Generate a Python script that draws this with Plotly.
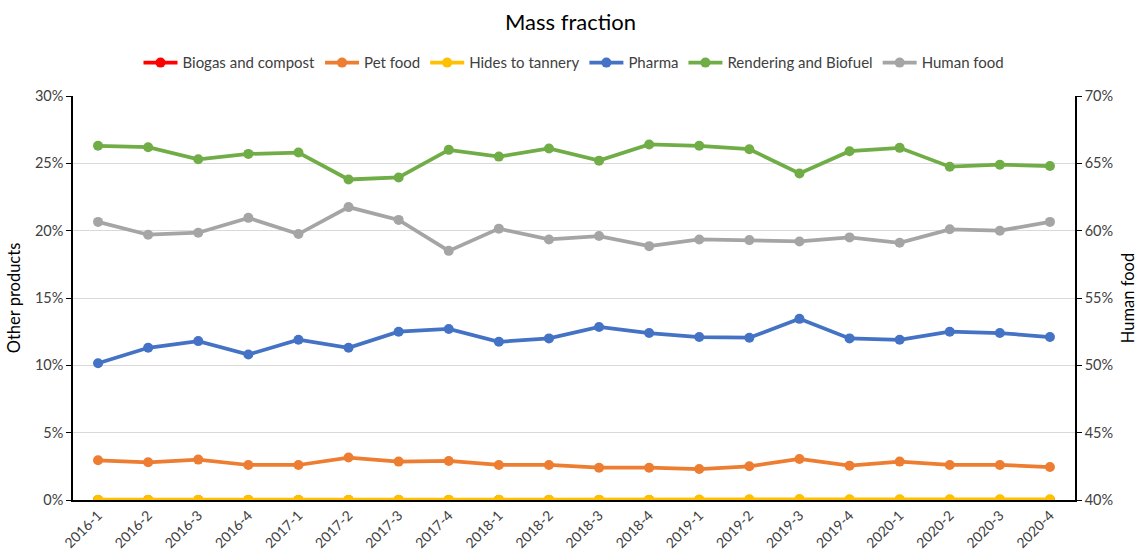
import plotly.graph_objects as go

quarters = ["2016-1", "2016-2", "2016-3", "2016-4", "2017-1", "2017-2", "2017-3", "2017-4",
            "2018-1", "2018-2", "2018-3", "2018-4", "2019-1", "2019-2", "2019-3", "2019-4",
            "2020-1", "2020-2", "2020-3", "2020-4"]

# Mass fractions (%) of by-product streams
biogas = [0.0, 0.0, 0.0, 0.0, 0.0, 0.0, 0.0, 0.0, 0.0, 0.0,
          0.0, 0.0, 0.0, 0.0, 0.0, 0.0, 0.0, 0.0, 0.0, 0.0]
pet_food = [2.95, 2.8, 3.0, 2.6, 2.6, 3.15, 2.85, 2.9, 2.6, 2.6,
            2.4, 2.4, 2.3, 2.5, 3.05, 2.55, 2.85, 2.6, 2.6, 2.45]
hides = [0.02, 0.02, 0.02, 0.02, 0.02, 0.02, 0.02, 0.02, 0.02, 0.02,
         0.02, 0.02, 0.03, 0.06, 0.08, 0.06, 0.06, 0.06, 0.05, 0.05]
pharma = [10.15, 11.3, 11.8, 10.8, 11.9, 11.3, 12.5, 12.7, 11.75, 12.0,
          12.85, 12.4, 12.1, 12.05, 13.45, 12.0, 11.9, 12.5, 12.4, 12.1]
rendering = [26.3, 26.2, 25.3, 25.7, 25.8, 23.8, 23.95, 26.0, 25.5, 26.1,
             25.2, 26.4, 26.3, 26.05, 24.25, 25.9, 26.15, 24.75, 24.9, 24.8]
# Human food is plotted against the secondary axis
human_food = [60.65, 59.7, 59.85, 60.95, 59.75, 61.75, 60.8, 58.5, 60.15, 59.35,
              59.6, 58.85, 59.35, 59.3, 59.2, 59.5, 59.1, 60.1, 60.0, 60.65]

left_ticks = [0, 5, 10, 15, 20, 25, 30]
right_ticks = [40, 45, 50, 55, 60, 65, 70]

series = [
    ("Biogas and compost", biogas, "#FF0000", "y"),
    ("Pet food", pet_food, "#ED7D31", "y"),
    ("Hides to tannery", hides, "#FFC000", "y"),
    ("Pharma", pharma, "#4472C4", "y"),
    ("Rendering and Biofuel", rendering, "#70AD47", "y"),
    ("Human food", human_food, "#A5A5A5", "y2"),
]

FONT = "Lato, Carlito, Calibri, 'Liberation Sans', Arial, sans-serif"

fig = go.Figure()
for name, vals, color, axis in series:
    fig.add_trace(go.Scatter(
        x=quarters, y=vals, name=name, yaxis=axis,
        mode="lines+markers",
        line=dict(color=color, width=3.75),
        marker=dict(color=color, size=10),
    ))

fig.update_layout(
    width=1141, height=551,
    margin=dict(l=73, r=66, t=96, b=51),
    paper_bgcolor="white", plot_bgcolor="white",
    font=dict(family=FONT, size=14.5, color="#404040"),
    title=dict(text="Mass fraction", x=0.5, xanchor="center", y=0.96, yanchor="middle",
               font=dict(size=22, color="#000000")),
    legend=dict(orientation="h", x=0.5, xanchor="center", y=1.082, yanchor="middle",
                font=dict(size=15, color="#404040"), itemwidth=34, traceorder="normal"),
    showlegend=True,
    xaxis=dict(
        type="category", range=[-0.5, 19.5], automargin=False,
        tickangle=-45, showgrid=False,
        showline=True, linecolor="black", linewidth=1.5,
        ticks="", tickfont=dict(size=14, color="#404040"),
    ),
    yaxis=dict(
        range=[0, 30], tickvals=left_ticks, automargin=False,
        ticktext=[f"{v}%" for v in left_ticks],
        showgrid=True, gridcolor="#D9D9D9", gridwidth=1,
        showline=True, linecolor="black", linewidth=1.5,
        ticks="outside", ticklen=5, tickcolor="black",
        zeroline=False,
        title=dict(text="Other products", font=dict(size=16.5, color="#000000"), standoff=10),
        tickfont=dict(size=14.5, color="#404040"),
    ),
    yaxis2=dict(
        range=[40, 70], tickvals=right_ticks, automargin=False,
        ticktext=[f"{v}%" for v in right_ticks],
        overlaying="y", side="right",
        showgrid=False, zeroline=False,
        showline=True, linecolor="black", linewidth=1.5,
        ticks="outside", ticklen=5, tickcolor="black",
        title=dict(text="Human food", font=dict(size=16.5, color="#000000"), standoff=10),
        tickfont=dict(size=14.5, color="#404040"),
    ),
)

fig.write_html("out.html")
